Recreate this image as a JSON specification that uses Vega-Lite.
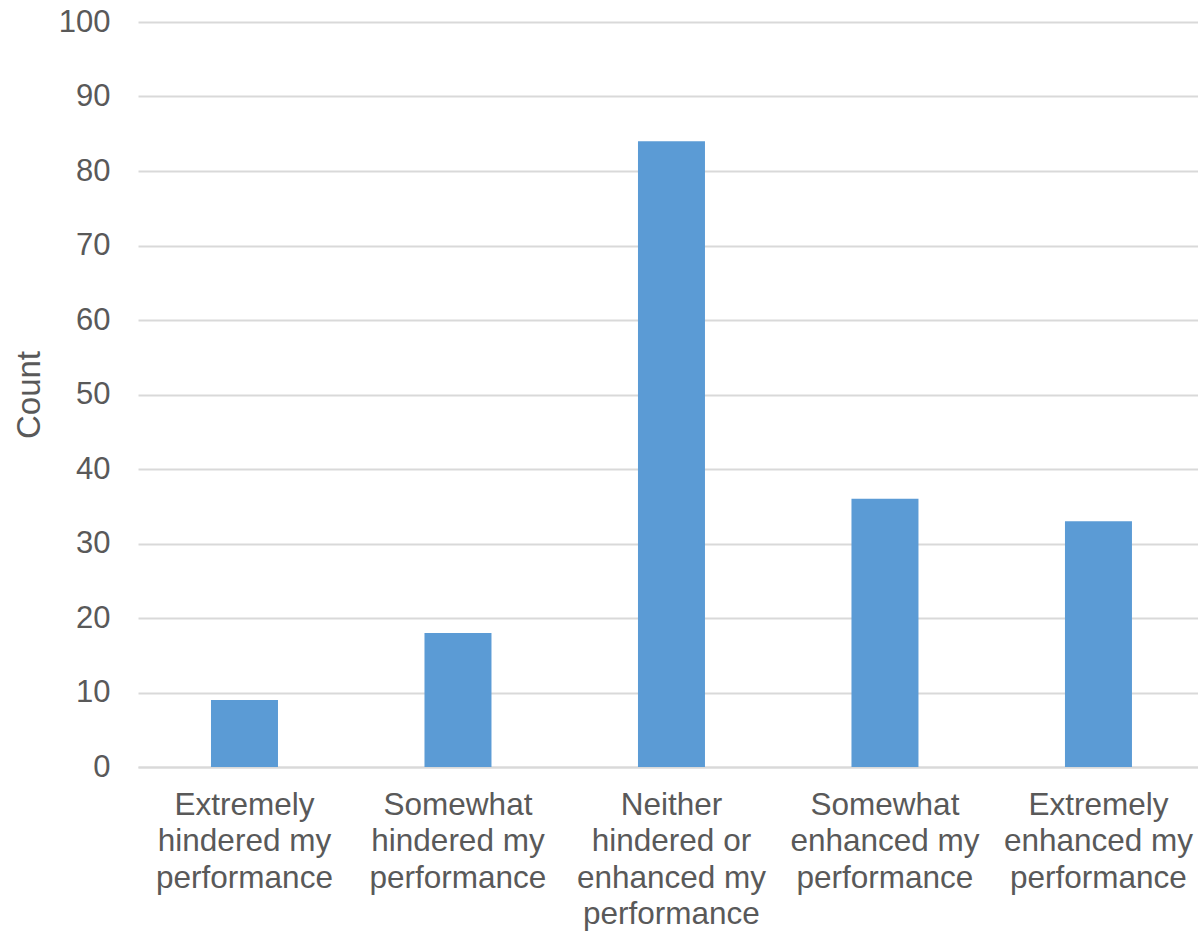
{
  "$schema": "https://vega.github.io/schema/vega-lite/v6.json",
  "width": 1060,
  "height": 745,
  "autosize": {"type": "none"},
  "padding": {"left": 138, "top": 22, "right": 0, "bottom": 164},
  "background": "white",
  "data": {"values": [
    {"label": "Extremely|hindered my|performance", "count": 9},
    {"label": "Somewhat|hindered my|performance", "count": 18},
    {"label": "Neither|hindered or|enhanced my|performance", "count": 84},
    {"label": "Somewhat|enhanced my|performance", "count": 36},
    {"label": "Extremely|enhanced my|performance", "count": 33}
  ]},
  "mark": {"type": "bar", "color": "#5b9bd5"},
  "encoding": {
    "x": {
      "field": "label", "type": "nominal", "sort": null,
      "scale": {"paddingInner": 0.6862, "paddingOuter": 0.3256, "align": 0.525},
      "axis": {
        "title": null, "labelAngle": 0, "labelExpr": "split(datum.label, '|')",
        "labelFont": "Liberation Sans", "labelFontSize": 31.5, "labelColor": "#595959",
        "labelLineHeight": 36.5, "labelPadding": 22, "ticks": false,
        "domainColor": "#d9d9d9", "domainWidth": 2, "labelLimit": 300
      }
    },
    "y": {
      "field": "count", "type": "quantitative",
      "scale": {"domain": [0, 100]},
      "axis": {
        "title": "Count", "values": [0,10,20,30,40,50,60,70,80,90,100],
        "titleFont": "Liberation Sans", "titleFontSize": 33, "titleFontWeight": "normal",
        "titleColor": "#595959", "titlePadding": 12,
        "labelFont": "Liberation Sans", "labelFontSize": 31, "labelColor": "#595959",
        "labelPadding": 28, "ticks": false, "domain": false,
        "gridColor": "#d9d9d9", "gridWidth": 2
      }
    }
  },
  "config": {"view": {"stroke": null}}
}
